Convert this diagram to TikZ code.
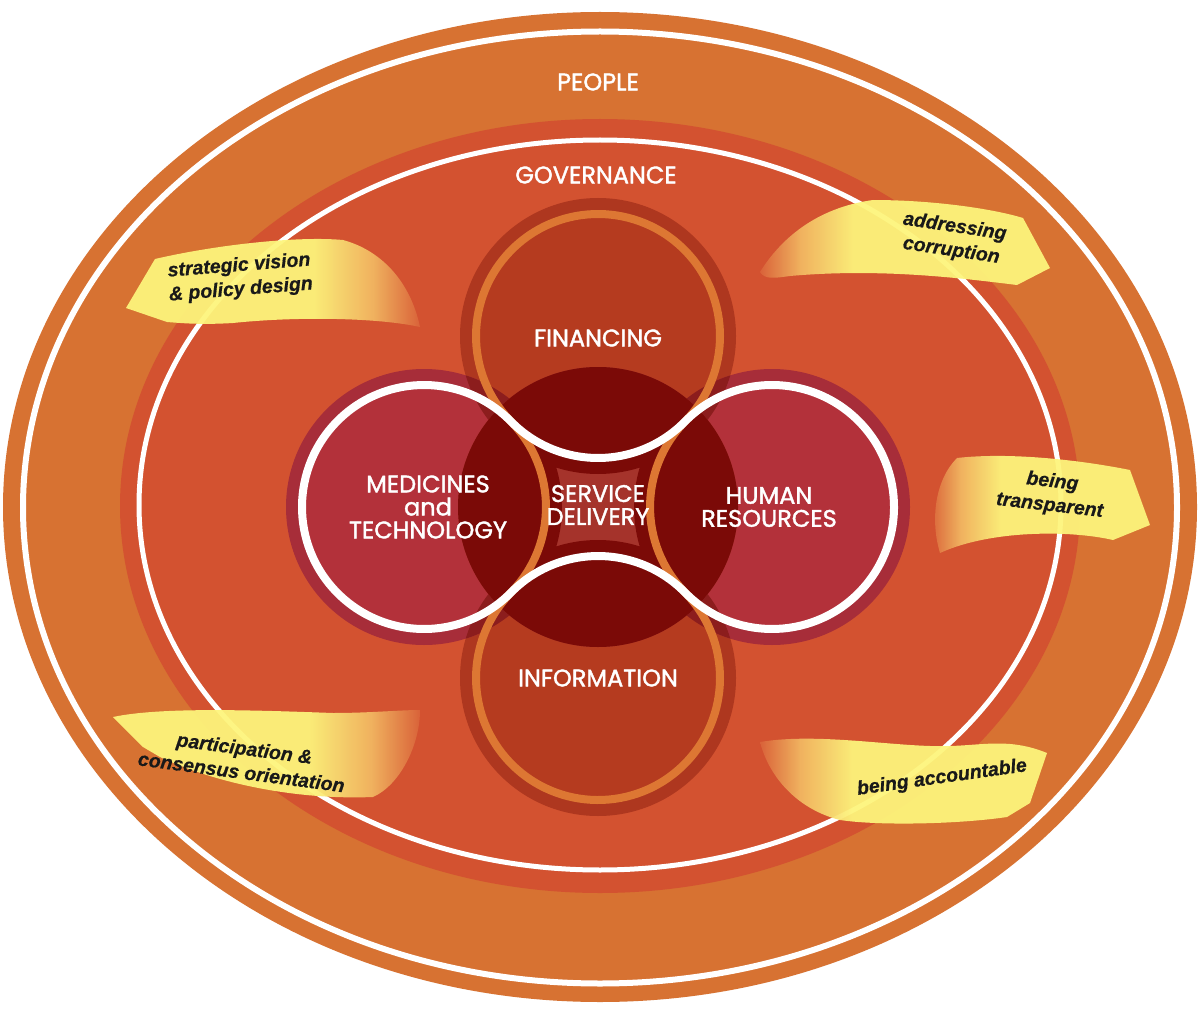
\documentclass[tikz,border=0pt]{standalone}
\usepackage{fontspec}
\setmainfont{Liberation Sans}
\newfontfamily\popfont{Poppins}[FakeBold=1.6]
\newfontfamily\ribfont{Liberation Sans}[FakeBold=0.6]
\usetikzlibrary{calc}
\definecolor{peopleC}{HTML}{D77232}
\definecolor{govC}{HTML}{D35230}
\definecolor{finHalo}{HTML}{AE371F}
\definecolor{finIn}{HTML}{B53B1F}
\definecolor{medHalo}{HTML}{A72D39}
\definecolor{medIn}{HTML}{B3313A}
\definecolor{sdLight}{HTML}{A5332B}
\definecolor{sdDark}{HTML}{7B0A07}
\definecolor{lensC}{HTML}{8C1D1D}
\definecolor{ringOr}{HTML}{DD7733}
\definecolor{ylw}{HTML}{FDF57C}
\definecolor{ylwmid}{HTML}{F2B862}
\definecolor{ylwend}{HTML}{DA643A}
\pgfdeclarehorizontalshading{ribR}{100bp}{color(0bp)=(ylw); color(25bp)=(ylw); color(57bp)=(ylw); color(67bp)=(ylwmid); color(75bp)=(ylwend); color(100bp)=(ylwend)}
\pgfdeclarehorizontalshading{ribL}{100bp}{color(0bp)=(ylwend); color(25bp)=(ylwend); color(32bp)=(ylwmid); color(41bp)=(ylw); color(100bp)=(ylw)}
\tikzset{
  clab/.style={text=white, font=\popfont\fontsize{24}{23}\selectfont, align=center, inner sep=0pt},
  rlab/.style={text=black!90, font=\ribfont\fontsize{19.5}{24}\selectfont\bfseries\itshape, align=center, inner sep=0pt},
  ribbonR/.style={shading=ribR, fill opacity=0.94},
  ribbonL/.style={shading=ribL, fill opacity=0.94},
  whitering/.style={draw=white, line width=8pt},
  orangering/.style={draw=ringOr, line width=8pt}
}
\begin{document}
\begin{tikzpicture}[x=1pt,y=-1pt]
\useasboundingbox (0,0) rectangle (1200,1019);
\fill[white] (0,0) rectangle (1200,1019);
% outer ellipses
\fill[peopleC] (600,507) ellipse[x radius=597, y radius=495];
\draw[white, line width=6pt] (600,507.5) ellipse[x radius=577, y radius=476];
\fill[govC] (600,506) ellipse[x radius=480, y radius=387];
\draw[white, line width=5pt] (600,505) ellipse[x radius=461, y radius=365];
% centres
\coordinate (F) at (598,336);
\coordinate (I) at (598,678);
\coordinate (M) at (424,507);
\coordinate (H) at (772,507);
\coordinate (C) at (598,507);
\coordinate (TMF) at ($(M)!0.5!(F)$);
% halos
\fill[finHalo] (F) circle[radius=138] (I) circle[radius=138];
\fill[medHalo] (M) circle[radius=138] (H) circle[radius=138];
\fill[finIn] (F) circle[radius=122] (I) circle[radius=122];
\fill[medIn] (M) circle[radius=122] (H) circle[radius=122];
\begin{scope}
  \clip (F) circle[radius=138];
  \fill[lensC] (M) circle[radius=138] (H) circle[radius=138];
\end{scope}
\begin{scope}
  \clip (I) circle[radius=138];
  \fill[lensC] (M) circle[radius=138] (H) circle[radius=138];
\end{scope}
% service delivery
\fill[sdLight] (C) circle[radius=140];
\begin{scope}
  \clip (C) circle[radius=140];
  \fill[sdDark] (F) circle[radius=138] (I) circle[radius=138] (M) circle[radius=138] (H) circle[radius=138];
\end{scope}
% interlaced rings
\draw[orangering] (TMF) arc[start angle=135.5, end angle=404.5, radius=122]
  arc[start angle=224.5, end angle=135.5, radius=122]
  arc[start angle=-44.5, end angle=224.5, radius=122]
  arc[start angle=44.5, end angle=-44.5, radius=122] -- cycle;
\draw[whitering] (TMF) arc[start angle=-44.5, end angle=-315.5, radius=122]
  arc[start angle=-135.5, end angle=-44.5, radius=122]
  arc[start angle=135.5, end angle=-135.5, radius=122]
  arc[start angle=44.5, end angle=135.5, radius=122] -- cycle;
% labels
\node[clab] (ppl) at (598,82) {PEOPLE};
\node[clab] (gov) at (596,175) {GOVERNANCE};
\node[clab] (fin) at (598,338) {FINANCING};
\node[clab] (inf) at (598,678) {INFORMATION};
\node[clab] (med) at (428,507) {MEDICINES\\and\\TECHNOLOGY};
\node[clab] (sd) at (598,505) {SERVICE\\DELIVERY};
\node[clab] (hr) at (769,507) {HUMAN\\RESOURCES};
% ribbons
\shade[ribbonR] (126,308) -- (155,259) .. controls (220,244) and (300,236) .. (343,240)
  .. controls (380,250) and (410,280) .. (420,327)
  .. controls (380,318) and (300,316) .. (233,323)
  .. controls (200,325) and (180,323) .. (167,322) -- cycle;
\shade[ribbonL] (760,272) .. controls (780,240) and (815,208) .. (873,200)
  .. controls (930,200) and (990,208) .. (1023,218) -- (1050,268) -- (1017,285)
  .. controls (960,278) and (880,268) .. (790,276)
  .. controls (775,278) and (765,280) .. (760,272) -- cycle;
\shade[ribbonL] (957,458) .. controls (1010,452) and (1080,460) .. (1130,470) -- (1150,525) -- (1113,540)
  .. controls (1070,530) and (990,530) .. (940,553)
  .. controls (930,520) and (935,480) .. (957,458) -- cycle;
\shade[ribbonL] (760,742) .. controls (820,732) and (900,748) .. (950,746)
  .. controls (985,745) and (1010,738) .. (1047,753) -- (1030,803) -- (1007,817)
  .. controls (960,824) and (880,826) .. (840,820)
  .. controls (800,810) and (770,780) .. (760,742) -- cycle;
\shade[ribbonR] (113,717) .. controls (160,707) and (250,710) .. (333,713)
  .. controls (370,713) and (400,710) .. (420,710)
  .. controls (420,745) and (400,785) .. (373,797)
  .. controls (300,800) and (220,785) .. (160,757) -- (143,747) -- cycle;
% ribbon texts
\node[rlab, rotate=4.5] (sv) at (240,278) {strategic vision\\\& policy design};
\node[rlab, rotate=-8.5] (ac) at (953,239) {addressing\\corruption};
\node[rlab, rotate=-6.5] (bt) at (1051,494) {being\\transparent};
\node[rlab, rotate=8] (ba) at (942,778) {being accountable};
\node[rlab, rotate=-7.5] (pc) at (243,760) {participation \&\\consensus orientation};
\end{tikzpicture}
\end{document}
